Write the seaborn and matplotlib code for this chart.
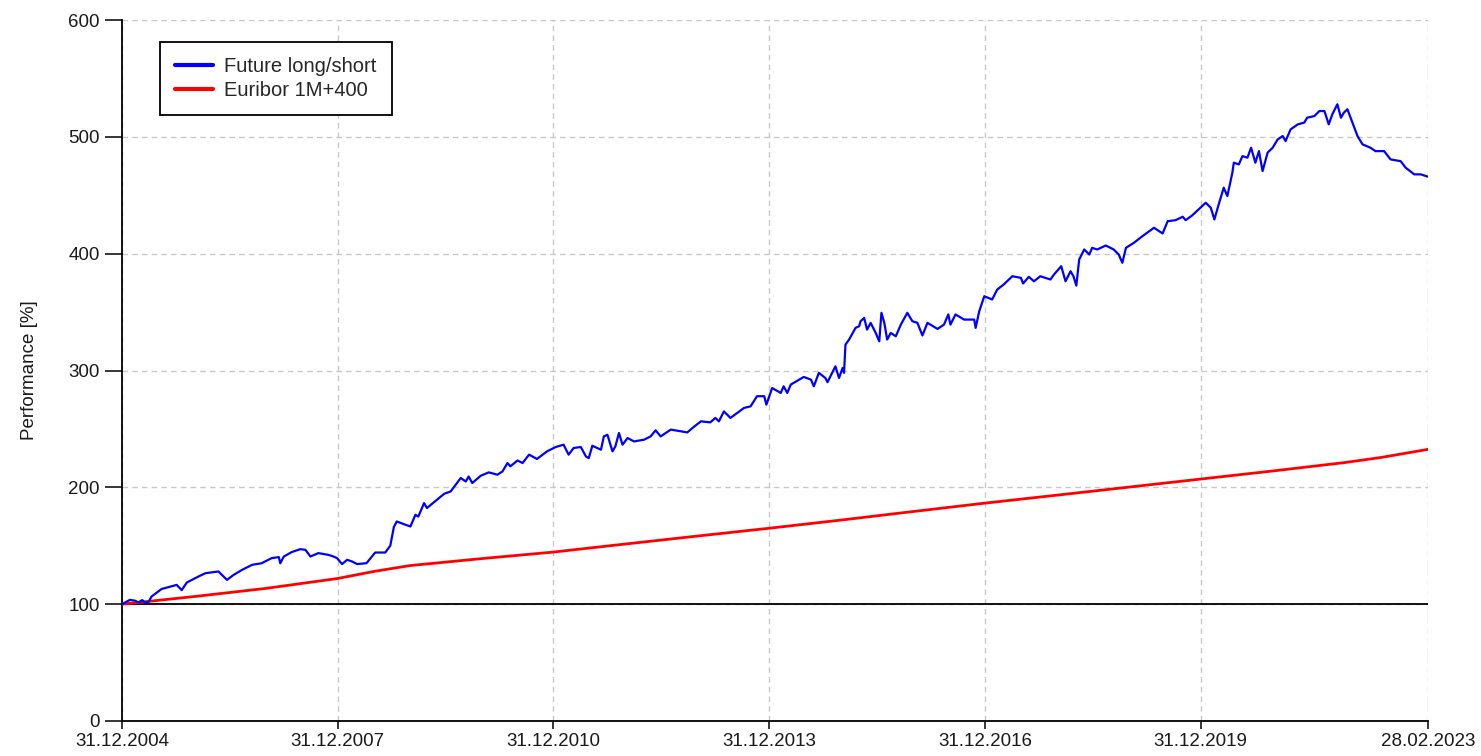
import matplotlib
matplotlib.use("Agg")
import matplotlib.pyplot as plt
import matplotlib.dates as mdates
import numpy as np
import pandas as pd
import seaborn as sns

# years since 31.12.2004
future_t = [0.00, 0.11, 0.18, 0.23, 0.28, 0.32, 0.37, 0.41, 0.55, 0.67, 0.76, 0.83, 0.90,
            1.06, 1.16, 1.34, 1.46, 1.55, 1.67, 1.81, 1.94, 2.08, 2.18, 2.20, 2.25, 2.36,
            2.48, 2.55, 2.62, 2.73, 2.87, 2.94, 2.99, 3.06, 3.13, 3.20, 3.27, 3.40, 3.52,
            3.66, 3.73, 3.78, 3.82, 3.94, 4.01, 4.08, 4.12, 4.20, 4.24, 4.38, 4.48, 4.57,
            4.71, 4.78, 4.82, 4.87, 4.99, 5.10, 5.22, 5.29, 5.36, 5.40, 5.50, 5.57, 5.66,
            5.77, 5.91, 6.03, 6.14, 6.21, 6.28, 6.38, 6.45, 6.49, 6.54, 6.66, 6.70, 6.75,
            6.82, 6.86, 6.91, 6.96, 7.03, 7.12, 7.26, 7.35, 7.42, 7.49, 7.63, 7.77, 7.86,
            7.95, 8.05, 8.18, 8.25, 8.30, 8.37, 8.46, 8.65, 8.74, 8.83, 8.93, 8.96, 9.04,
            9.16, 9.20, 9.25, 9.30, 9.48, 9.58, 9.62, 9.69, 9.78, 9.81, 9.92, 9.97, 10.02,
            10.04, 10.06, 10.11, 10.20, 10.25, 10.27, 10.32, 10.36, 10.41, 10.48, 10.53,
            10.56, 10.60, 10.64, 10.69, 10.76, 10.83, 10.92, 10.99, 11.06, 11.13, 11.20,
            11.34, 11.43, 11.49, 11.52, 11.59, 11.71, 11.85, 11.87, 11.92, 11.99, 12.10,
            12.17, 12.26, 12.38, 12.50, 12.53, 12.61, 12.68, 12.77, 12.91, 12.96, 13.06,
            13.12, 13.19, 13.23, 13.27, 13.31, 13.38, 13.45, 13.49, 13.56, 13.68, 13.79,
            13.86, 13.91, 13.96, 14.07, 14.19, 14.35, 14.47, 14.54, 14.65, 14.75, 14.79,
            14.88, 14.98, 15.07, 15.14, 15.19, 15.25, 15.32, 15.37, 15.44, 15.46, 15.53,
            15.58, 15.65, 15.70, 15.76, 15.81, 15.86, 15.93, 16.00, 16.07, 16.14, 16.18,
            16.25, 16.35, 16.44, 16.48, 16.58, 16.65, 16.72, 16.78, 16.83, 16.90, 16.95,
            16.99, 17.04, 17.11, 17.18, 17.25, 17.36, 17.43, 17.55, 17.64, 17.78, 17.85,
            17.97, 18.06, 18.16]
future_v = [100.0, 103.7, 103.0, 101.5, 103.5, 101.5, 102.0, 106.5, 113.0, 115.0, 116.5, 112.0, 118.5,
            123.6, 126.5, 128.0, 120.8, 125.0, 129.4, 133.7, 135.0, 139.4, 140.3, 135.0, 140.8, 144.6,
            147.1, 146.5, 140.8, 143.7, 142.2, 140.8, 139.4, 134.3, 138.0, 136.5, 134.3, 135.1, 144.2,
            144.2, 150.0, 166.0, 170.8, 168.0, 166.5, 176.5, 175.0, 186.5, 182.3, 189.4, 194.5, 196.5,
            208.0, 205.0, 209.3, 203.7, 210.0, 212.8, 210.8, 213.6, 220.8, 218.0, 223.0, 220.8, 228.0,
            224.3, 230.8, 234.5, 236.5, 228.0, 233.7, 234.5, 226.5, 225.0, 235.6, 232.2, 243.6, 245.0,
            230.8, 235.0, 246.5, 236.5, 242.2, 239.3, 240.8, 243.6, 248.8, 243.6, 249.4, 248.0, 247.0,
            251.7, 256.5, 255.6, 259.4, 256.5, 265.0, 259.4, 268.0, 269.3, 278.0, 278.0, 270.8, 285.0,
            280.8, 286.5, 280.8, 288.0, 294.5, 292.2, 286.5, 298.0, 293.6, 290.0, 303.6, 293.6, 302.2,
            298.0, 322.2, 326.5, 336.5, 337.9, 342.2, 345.0, 335.0, 340.8, 332.2, 325.0,
            349.4, 340.8, 326.5, 332.2, 329.3, 339.3, 349.4, 342.2, 340.8, 330.0, 340.8,
            335.6, 339.3, 348.0, 339.3, 348.0, 343.6, 343.6, 336.5, 350.7, 363.6, 360.8,
            369.3, 373.6, 380.7, 379.3, 374.5, 380.2, 376.4, 380.7, 377.9, 382.2, 389.3,
            376.4, 385.0, 380.7, 372.7, 395.0, 403.6, 399.3, 405.0, 403.6, 407.0, 403.6,
            399.3, 392.2, 405.0, 409.3, 415.0, 422.2, 417.3, 427.8, 428.7, 431.6, 428.7,
            432.7, 438.5, 443.6, 439.3, 429.3, 442.2, 456.5, 449.3, 469.3, 477.9, 476.4,
            483.5, 482.2, 490.7, 477.9, 487.8, 470.7, 486.5, 490.7, 497.8, 500.7, 496.4,
            506.4, 510.7, 512.2, 516.4, 517.8, 522.1, 522.1, 510.7, 519.3, 527.9, 516.4,
            520.7, 523.6, 512.2, 500.7, 493.6, 490.7, 487.8, 487.8, 480.7, 479.2, 473.6,
            467.9, 467.9, 465.9]

euribor_t = [0.0, 1.0, 2.0, 3.0, 3.5, 4.0, 5.0, 6.0, 7.0, 8.0, 9.0, 10.0, 11.0, 12.0,
             13.0, 14.0, 15.0, 16.0, 17.0, 17.5, 18.16]
euribor_v = [100.0, 106.5, 113.5, 122.0, 128.0, 133.0, 139.0, 144.6, 151.5, 158.3, 165.0,
             172.0, 179.3, 186.5, 193.3, 200.2, 207.1, 214.0, 221.2, 225.5, 232.5]

tick_dates = ["2004-12-31", "2007-12-31", "2010-12-31", "2013-12-31",
              "2016-12-31", "2019-12-31", "2023-02-28"]
y_ticks = [0, 100, 200, 300, 400, 500, 600]

start = pd.Timestamp("2004-12-31")
end = pd.Timestamp("2023-02-28")


def to_dates(t):
    return start + pd.to_timedelta(np.array(t) * 365.25, unit="D")


fut = pd.DataFrame({"date": to_dates(future_t), "value": future_v})
eur = pd.DataFrame({"date": to_dates(euribor_t), "value": euribor_v})

sns.set_style("white")
plt.rcParams["font.family"] = ["Liberation Sans", "DejaVu Sans"]

fig = plt.figure(figsize=(14.81, 7.56), dpi=100)
ax = fig.add_axes([0.0824, 0.0463, 0.8818, 0.9272])

ax.grid(True, color="#c8c8c8", linestyle=(0, (4, 3)), linewidth=1.0)
ax.set_axisbelow(True)

ax.axhline(100, color="black", linewidth=1.3, zorder=2)
sns.lineplot(data=eur, x="date", y="value", ax=ax, color="#ff0000", linewidth=2.0,
             label="Euribor 1M+400", zorder=3)
sns.lineplot(data=fut, x="date", y="value", ax=ax, color="#0000ff", linewidth=1.6,
             label="Future long/short", zorder=4)

ax.set_xlim(start, end)
ax.set_ylim(0, 600)
ax.set_xticks(pd.to_datetime(tick_dates))
ax.xaxis.set_major_formatter(mdates.DateFormatter("%d.%m.%Y"))
ax.set_yticks(y_ticks)

for s in ["top", "right"]:
    ax.spines[s].set_visible(False)
for s in ["left", "bottom"]:
    ax.spines[s].set_color("black")
    ax.spines[s].set_linewidth(1.3)

ax.tick_params(axis="y", length=12, width=1.3, pad=4, labelsize=13.5, left=True)
ax.tick_params(axis="x", length=6, width=1.3, pad=3, labelsize=13.5, bottom=True)
for lbl in ax.get_xticklabels() + ax.get_yticklabels():
    lbl.set_color("#1a1a1a")

ax.set_xlabel("")
ax.set_ylabel("Performance [%]", fontsize=13.5, labelpad=22, color="#1a1a1a")

handles, labels = ax.get_legend_handles_labels()
order = [labels.index("Future long/short"), labels.index("Euribor 1M+400")]
leg = ax.legend([handles[i] for i in order], [labels[i] for i in order],
                loc="upper left", bbox_to_anchor=(0.029, 0.969), borderaxespad=0,
                fontsize=14.5, frameon=True, fancybox=False, framealpha=1,
                handlelength=1.9, handletextpad=0.55, labelspacing=0.25,
                borderpad=0.75)
leg.get_frame().set_edgecolor("black")
leg.get_frame().set_linewidth(1.3)
for h in leg.get_lines():
    h.set_linewidth(3.0)

fig.savefig("out.png", dpi=100)
